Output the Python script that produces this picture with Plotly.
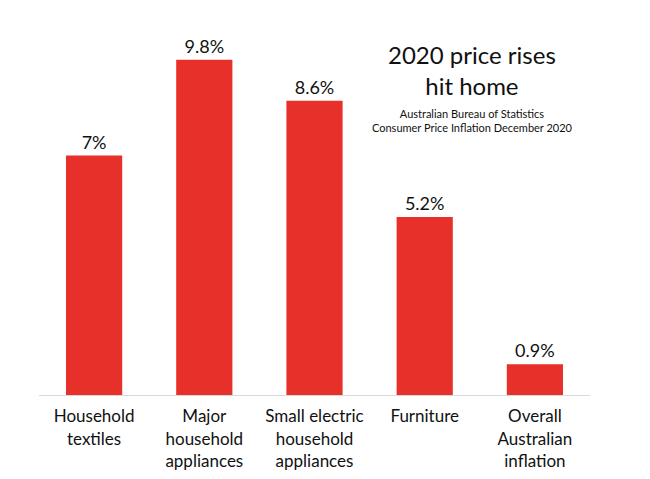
import plotly.graph_objects as go

categories = ["Household<br>textiles", "Major<br>household<br>appliances",
              "Small electric<br>household<br>appliances", "Furniture",
              "Overall<br>Australian<br>inflation"]
values = [7.0, 9.8, 8.6, 5.2, 0.9]
value_labels = ["7%", "9.8%", "8.6%", "5.2%", "0.9%"]

FONT = "Lato"
fig = go.Figure(go.Bar(
    x=categories, y=values, text=value_labels, textposition="outside",
    textfont=dict(family=FONT, size=18, color="#111111"),
    marker=dict(color="#e8302a", line=dict(width=0)),
    cliponaxis=False,
))

# page body has an 8px margin, so offsets are compensated
fig.update_layout(
    width=650, height=479,
    margin=dict(l=31, r=68, t=22, b=92),
    paper_bgcolor="white", plot_bgcolor="white",
    bargap=0.49, showlegend=False,
    font=dict(family=FONT, color="#111111"),
    xaxis=dict(showgrid=False, showline=True, linecolor="#d9d9d9", linewidth=1,
               tickfont=dict(family=FONT, size=17, color="#111111"), ticks="",
               ticklabelstandoff=6),
    yaxis=dict(range=[0, 10.67], visible=False),
)
fig.add_annotation(text="2020 price rises<br>hit home", xref="paper", yref="paper",
                   x=(472 - 39) / 551, y=(395 - 70) / 365, xanchor="center", yanchor="middle",
                   showarrow=False, font=dict(family=FONT, size=24, color="#111111"))
fig.add_annotation(text="Australian Bureau of Statistics<br>Consumer Price Inflation December 2020",
                   xref="paper", yref="paper",
                   x=(472 - 39) / 551, y=(395 - 121) / 365, xanchor="center", yanchor="middle",
                   showarrow=False, font=dict(family=FONT, size=11, color="#111111"))

fig.write_html("out.html")
